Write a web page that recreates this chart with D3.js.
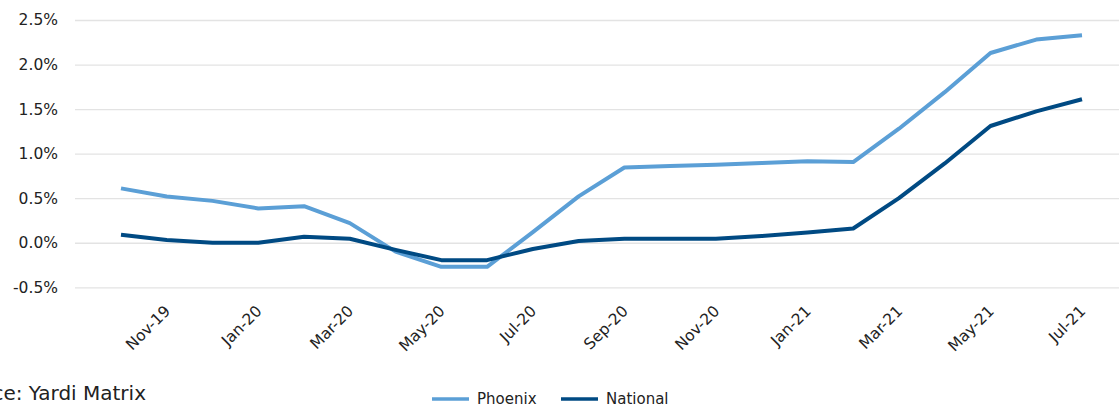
<!DOCTYPE html>
<html>
<head>
<meta charset="utf-8">
<script src="https://cdn.jsdelivr.net/npm/d3@7"></script>
<style>
body { margin: 0; background: #fff; }
text { font-family: "DejaVu Sans", sans-serif; fill: #222; }
</style>
</head>
<body>
<script>
// monthly rent growth, YoY %
var months = ["Oct-19","Nov-19","Dec-19","Jan-20","Feb-20","Mar-20","Apr-20","May-20","Jun-20","Jul-20","Aug-20","Sep-20",
              "Oct-20","Nov-20","Dec-20","Jan-21","Feb-21","Mar-21","Apr-21","May-21","Jun-21","Jul-21"];
var phoenix = [0.61,0.52,0.47,0.385,0.41,0.22,-0.1,-0.27,-0.27,0.12,0.52,0.845,
               0.86,0.875,0.895,0.915,0.905,1.28,1.69,2.13,2.28,2.33];
var national = [0.09,0.03,0.0,0.0,0.067,0.045,-0.08,-0.195,-0.195,-0.07,0.02,0.045,
                0.045,0.045,0.075,0.115,0.16,0.5,0.89,1.31,1.475,1.61];
var xLabels = ["Nov-19","Jan-20","Mar-20","May-20","Jul-20","Sep-20","Nov-20","Jan-21","Mar-21","May-21","Jul-21"];
var yTicks = [-0.5,0,0.5,1.0,1.5,2.0,2.5];

var w = 1119, h = 407;

var svg = d3.select("body").append("svg")
    .attr("width", w)
    .attr("height", h);

var x = d3.scalePoint().domain(months).range([121, 1082]);
var y = d3.scaleLinear().domain([-0.5, 2.5]).range([287.3, 20]);

// gridlines + y labels
var yAxis = svg.append("g")
    .attr("transform", "translate(75,0)")
    .call(d3.axisLeft(y).tickValues(yTicks).tickSize(-(w - 75)).tickPadding(17)
        .tickFormat(function(d){ return d.toFixed(1) + "%"; }));
yAxis.select(".domain").remove();
yAxis.selectAll("line").attr("stroke", "#e3e3e3").attr("stroke-width", 1.3);
yAxis.selectAll("text").style("font-size", "15.5px").attr("fill", "#222");

// x labels
var xAxis = svg.append("g")
    .attr("transform", "translate(0,296)")
    .call(d3.axisBottom(x).tickValues(xLabels).tickSize(0));
xAxis.select(".domain").remove();
xAxis.selectAll("text")
    .style("font-size", "15.5px")
    .attr("fill", "#222")
    .attr("text-anchor", "end")
    .attr("transform", "translate(4,16) rotate(-45)")
    .attr("dy", 0)
    .attr("y", 0);

var line = d3.line()
    .x(function(d, i) { return x(months[i]); })
    .y(function(d) { return y(d); });

svg.append("path").datum(phoenix)
    .attr("d", line).attr("fill", "none")
    .attr("stroke", "#5b9fd6").attr("stroke-width", 4).attr("stroke-linejoin", "round");

svg.append("path").datum(national)
    .attr("d", line).attr("fill", "none")
    .attr("stroke", "#004a83").attr("stroke-width", 4).attr("stroke-linejoin", "round");

// legend
var legend = [{name: "Phoenix", color: "#5b9fd6", x: 432}, {name: "National", color: "#004a83", x: 561}];
var lg = svg.selectAll(".lg").data(legend).enter().append("g")
    .attr("transform", function(d){ return "translate(" + d.x + ",399)"; });
lg.append("line").attr("x1", 0).attr("x2", 37)
    .attr("stroke", function(d){ return d.color; }).attr("stroke-width", 3.5);
lg.append("text").attr("x", 45).attr("y", 4.5).style("font-size", "15px").text(function(d){ return d.name; });

// source note (cut off at left)
svg.append("text")
    .attr("x", 146).attr("y", 400)
    .attr("text-anchor", "end")
    .style("font-size", "20px")
    .text("Source: Yardi Matrix");
</script>
</body>
</html>
